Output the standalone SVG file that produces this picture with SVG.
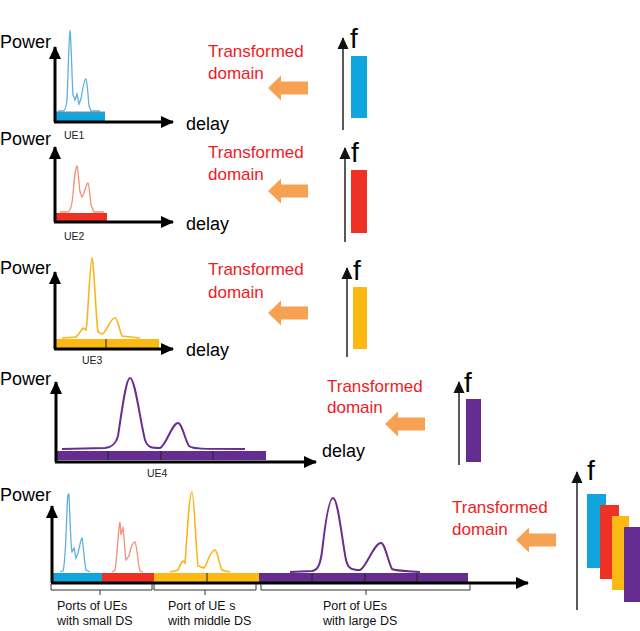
<svg xmlns="http://www.w3.org/2000/svg" width="640" height="631" viewBox="0 0 640 631">
<style>
.lbl{font-family:"Liberation Sans",Arial,sans-serif;fill:#000}
.big{font-size:18px}
.td{font-family:"Liberation Sans",Arial,sans-serif;font-size:17px;fill:#ee1c25}
.f{font-family:"Liberation Sans",Arial,sans-serif;font-size:28px;fill:#000}
.ue{font-family:"Liberation Sans",Arial,sans-serif;font-size:10.5px;fill:#222}
.ds{font-family:"Liberation Sans",Arial,sans-serif;font-size:12.5px;fill:#111}
.ax{stroke:#000;stroke-width:3;fill:none;marker-end:url(#ah)}
.fax{stroke:#222;stroke-width:1.5;fill:none;marker-end:url(#fh)}
.sep{stroke:#222;stroke-width:1}
.br{stroke:#333;stroke-width:1;fill:none}
.cb{stroke:#5fb0e0;stroke-width:1.3;fill:none}
.cr{stroke:#f29277;stroke-width:1.3;fill:none}
.cy{stroke:#fbb51c;stroke-width:1.6;fill:none}
.cp{stroke:#6a2c91;stroke-width:2;fill:none}
.B{fill:#10a5dd}.R{fill:#ee3124}.Y{fill:#fdb913}.P{fill:#662d91}
.oa{fill:#f7a152}
</style>
<defs>
<marker id="ah" markerUnits="userSpaceOnUse" markerWidth="14" markerHeight="12" refX="12" refY="6" orient="auto"><path d="M0,0 L13,6 L0,12 z" fill="#000"/></marker>
<marker id="fh" markerUnits="userSpaceOnUse" markerWidth="12" markerHeight="12" refX="11" refY="6" orient="auto"><path d="M0,0.5 L12,6 L0,11.5 z" fill="#111"/></marker>
<polygon id="oarrow" class="oa" points="0,0 13,-12.5 13,-6.5 40,-6.5 40,6.5 13,6.5 13,12.5"/>
</defs>

<g id="panel1">
<text class="lbl big" x="0" y="48">Power</text>
<path class="cb" d="M58 111 L63 111 C65 111 66 108 67 100 C68 80 69 32 70 31 C71 35 72 80 73 95 L75 100 L77 94 L79 104 L81 99 C83 86 85 79 86 79 C87 80 88 95 89 106 L91 111 L100 111"/>
<rect x="55" y="112" width="50" height="9" class="B"/>
<line x1="55" y1="112" x2="105" y2="112" stroke="#888" stroke-width="1"/>
<path class="ax" d="M55 122 V47"/>
<path class="ax" d="M54 122 H173"/>
<text class="lbl big" x="186" y="130">delay</text>
<text class="ue" x="64" y="139">UE1</text>
</g>

<g id="panel2">
<text class="lbl big" x="0" y="145">Power</text>
<path class="cr" d="M60 212 L68 212 C71 211 72 205 73 195 C74 180 76 166 77 166 C78 167 79 185 80 192 L82 197 C84 196 86 183 88 183 C89 184 90 195 91 205 L94 212 L104 212"/>
<rect x="55" y="213" width="52" height="9" class="R"/>
<path class="ax" d="M55 222 V147"/>
<path class="ax" d="M54 222 H173"/>
<text class="lbl big" x="186" y="230">delay</text>
<text class="ue" x="64" y="240">UE2</text>
</g>

<g id="panel3">
<text class="lbl big" x="0" y="274">Power</text>
<path class="cy" d="M62 338 L76 337 C79 335 81 330 83 328 L86 330 C88 320 90 258 92 258 C94 262 96 320 98 332 L102 334 C106 334 110 318 115 318 C118 318 119 330 122 336 L140 338"/>
<rect x="55" y="339" width="104" height="9" class="Y"/>
<line class="sep" x1="106" y1="339" x2="106" y2="348"/>
<path class="ax" d="M55 349 V272"/>
<path class="ax" d="M54 349 H173"/>
<text class="lbl big" x="186" y="356">delay</text>
<text class="ue" x="82" y="364">UE3</text>
</g>

<g id="panel4">
<text class="lbl big" x="0" y="385">Power</text>
<path class="cp" d="M62 449 L105 448 C112 447 116 444 118 436 C122 410 126 378 130 378 C135 378 140 420 145 440 C148 448 152 448 160 448 C166 446 172 423 178 423 C182 423 185 440 189 446 C193 449 200 449 245 449"/>
<rect x="57" y="451" width="209" height="9" class="P"/>
<line class="sep" x1="108" y1="451" x2="108" y2="460"/>
<line class="sep" x1="161" y1="451" x2="161" y2="460"/>
<line class="sep" x1="213" y1="451" x2="213" y2="460"/>
<path class="ax" d="M56 462 V382"/>
<path class="ax" d="M55 462 H316"/>
<text class="lbl big" x="322" y="457">delay</text>
<text class="ue" x="147" y="477">UE4</text>
</g>

<g id="panel5">
<text class="lbl big" x="0" y="501">Power</text>
<path class="cb" d="M60 572 L63 571 C65 566 66 540 67 510 C67.5 495 68 492 69 495 C70 520 71 550 72 552 L74 548 L76 558 L78 553 C80 545 81 538 82 538 C83 540 84 560 86 570 L90 572"/>
<path class="cr" d="M112 572 L115 570 C117 560 118 530 120 522 L121 535 L123 527 C124 535 125 555 126 560 L129 556 C131 546 133 542 135 542 C137 545 138 565 140 571 L143 572"/>
<path class="cy" d="M170 572 L178 570 C180 566 181 562 183 561 L185 563 C187 540 189 492 192 492 C194 492 196 550 198 566 L204 568 C207 565 210 550 215 550 C218 551 219 565 222 570 L230 572"/>
<path class="cp" d="M290 572 L312 571 C318 570 320 565 322 552 C325 525 329 498 333 498 C338 498 342 540 346 560 C348 569 352 570 360 570 C366 568 374 543 381 543 C385 543 388 562 392 569 C396 571 405 571 420 572"/>
<rect x="52" y="573" width="50" height="9" class="B"/>
<rect x="102" y="573" width="52" height="9" class="R"/>
<rect x="154" y="573" width="105" height="9" class="Y"/>
<rect x="259" y="573" width="209" height="9" class="P"/>
<line class="sep" x1="207" y1="573" x2="207" y2="582"/>
<line class="sep" x1="312" y1="573" x2="312" y2="582"/>
<line class="sep" x1="365" y1="573" x2="365" y2="582"/>
<line class="sep" x1="417" y1="573" x2="417" y2="582"/>
<path class="ax" d="M52 583 V506"/>
<path class="ax" d="M51 583 H528"/>
<path class="br" d="M51 584 V590 H152 V584 M100 590 V595"/>
<path class="br" d="M154 584 V590 H256 V584 M205 590 V595"/>
<path class="br" d="M261 584 V590 H470 V584 M366 590 V595"/>
<text class="ds" x="57" y="610">Ports of UEs</text>
<text class="ds" x="57" y="625">with small DS</text>
<text class="ds" x="168" y="610">Port of UE s</text>
<text class="ds" x="168" y="625">with middle DS</text>
<text class="ds" x="323" y="610">Port of UEs</text>
<text class="ds" x="323" y="625">with large DS</text>
</g>

<g id="transform1">
<text class="td" x="208" y="57">Transformed</text>
<text class="td" x="208" y="79">domain</text>
<use href="#oarrow" x="268" y="88"/>
<path class="fax" d="M343 130 V38"/>
<text class="f" x="350" y="48">f</text>
<rect x="351" y="56" width="16" height="62" class="B"/>
</g>

<g id="transform2">
<text class="td" x="208" y="158">Transformed</text>
<text class="td" x="208" y="180">domain</text>
<use href="#oarrow" x="268" y="191"/>
<path class="fax" d="M345 242 V148"/>
<text class="f" x="351" y="162">f</text>
<rect x="351" y="170" width="16" height="63" class="R"/>
</g>

<g id="transform3">
<text class="td" x="208" y="275">Transformed</text>
<text class="td" x="208" y="298">domain</text>
<use href="#oarrow" x="268" y="313"/>
<path class="fax" d="M347 357 V268"/>
<text class="f" x="353" y="280">f</text>
<rect x="353" y="287" width="14" height="62" class="Y"/>
</g>

<g id="transform4">
<text class="td" x="327" y="392">Transformed</text>
<text class="td" x="327" y="413">domain</text>
<use href="#oarrow" x="385" y="424"/>
<path class="fax" d="M459 465 V382"/>
<text class="f" x="464" y="392">f</text>
<rect x="466" y="399" width="15" height="63" class="P"/>
</g>

<g id="transform5">
<text class="td" x="452" y="513">Transformed</text>
<text class="td" x="452" y="535">domain</text>
<use href="#oarrow" x="516" y="540"/>
<path class="fax" d="M577 610 V472"/>
<text class="f" x="587" y="480">f</text>
<rect x="587" y="494" width="19" height="74" class="B"/>
<rect x="600" y="505" width="19" height="74" class="R"/>
<rect x="612" y="516" width="17" height="74" class="Y"/>
<rect x="624" y="527" width="18" height="75" class="P"/>
</g>
</svg>
